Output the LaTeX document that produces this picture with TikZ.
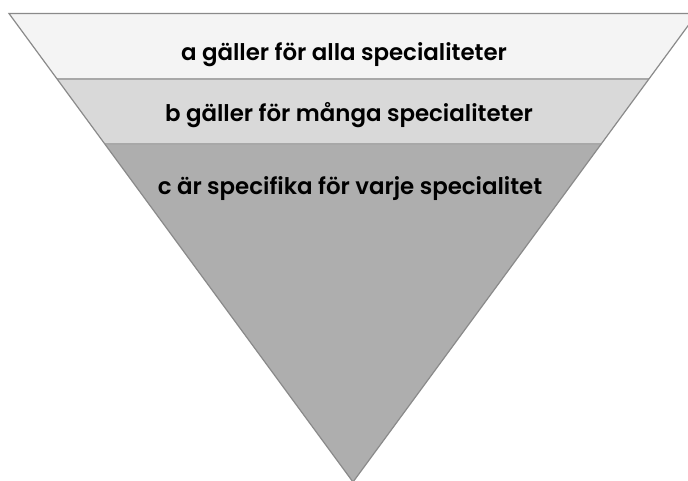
\documentclass[tikz,border=0pt]{standalone}
\usepackage{fontspec}
\setmainfont{Poppins}
\newfontfamily\levelfont{Poppins SemiBold}
\usetikzlibrary{calc}
\definecolor{layerA}{HTML}{F4F4F4}
\definecolor{layerB}{HTML}{D9D9D9}
\definecolor{layerC}{HTML}{AEAEAE}
\definecolor{edge}{HTML}{8A8A8A}
\definecolor{divider}{HTML}{A8A8A8}
\tikzset{
  levellabel/.style={anchor=base, inner sep=0pt, font=\fontsize{22.9}{26}\levelfont, text=black},
}
\begin{document}
\begin{tikzpicture}[x=1pt,y=-1pt]
\useasboundingbox (0,0) rectangle (688,480);
\clip (0,0) rectangle (688,480);
% corners of the inverted triangle
\coordinate (tl) at (9,13.5);
\coordinate (tr) at (697,13.5);
\coordinate (ap) at (353,482);
% layer boundaries on both slanted sides
\coordinate (l1) at ($(tl)!0.1398!(ap)$);
\coordinate (r1) at ($(tr)!0.1398!(ap)$);
\coordinate (l2) at ($(tl)!0.2785!(ap)$);
\coordinate (r2) at ($(tr)!0.2785!(ap)$);
% layer fills
\fill[layerA] (tl) -- (tr) -- (r1) -- (l1) -- cycle;
\fill[layerB] (l1) -- (r1) -- (r2) -- (l2) -- cycle;
\fill[layerC] (l2) -- (r2) -- (ap) -- cycle;
% dividers and outline
\draw[divider, line width=1.2pt] (l1) -- (r1);
\draw[divider, line width=1.2pt] (l2) -- (r2);
\draw[edge, line width=1.2pt, line join=miter] (tl) -- (tr) -- (ap) -- cycle;
% labels
\node[levellabel] (ta) at (344,60) {a gäller för alla specialiteter};
\node[levellabel] (tb) at (349,121) {b gäller för många specialiteter};
\node[levellabel] (tc) at (350,194) {c är specifika för varje specialitet};
\end{tikzpicture}
\end{document}
